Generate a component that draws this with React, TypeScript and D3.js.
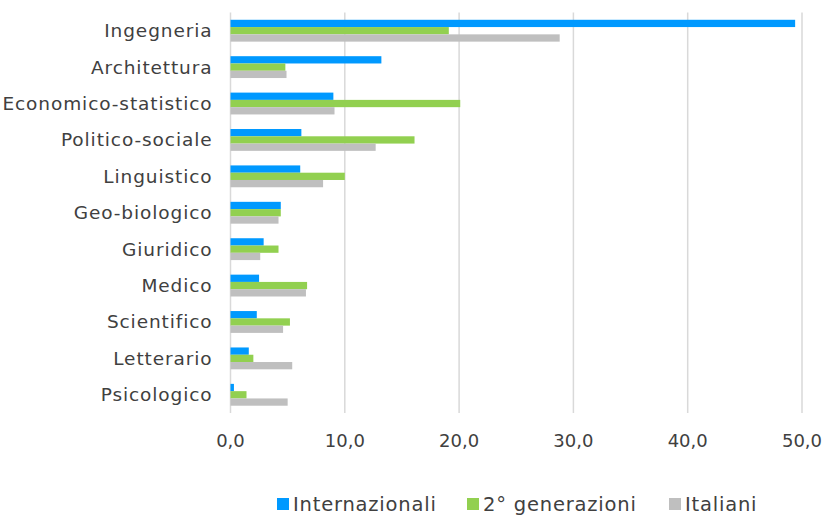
import React from "react";
import * as d3 from "d3";

const categories = [
  "Ingegneria",
  "Architettura",
  "Economico-statistico",
  "Politico-sociale",
  "Linguistico",
  "Geo-biologico",
  "Giuridico",
  "Medico",
  "Scientifico",
  "Letterario",
  "Psicologico",
];
const seriesNames = ["Internazionali", "2° generazioni", "Italiani"];
const internazionali = [49.4, 13.2, 9.0, 6.2, 6.1, 4.4, 2.9, 2.5, 2.3, 1.6, 0.3];
const generazioni2 = [19.1, 4.8, 20.1, 16.1, 10.0, 4.4, 4.2, 6.7, 5.2, 2.0, 1.4];
const italiani = [28.8, 4.9, 9.1, 12.7, 8.1, 4.2, 2.6, 6.6, 4.6, 5.4, 5.0];
const xTicks = [0, 10, 20, 30, 40, 50];
const colors = ["#0099FF", "#92D050", "#BFBFBF"];

const W = 824;
const H = 517;
const FONT = "'DejaVu Sans', sans-serif";

export default function App() {
  const series = [internazionali, generazioni2, italiani];
  const x = d3.scaleLinear().domain([0, 50]).range([230.5, 802]);
  const y = d3.scaleBand<string>().domain(categories).range([12.5, 413]).paddingInner(0.4).paddingOuter(0.2);
  const sub = d3.scaleBand<number>().domain([0, 1, 2]).range([0, y.bandwidth()]);
  const fmt = (v: number) => d3.format(".1f")(v).replace(".", ",");
  const legendSquares = [277, 467, 669];

  return (
    <svg width={W} height={H} style={{ position: "absolute", left: 0, top: 0 }}>
      <rect width={W} height={H} fill="#fff" />
      {xTicks.map((t) => (
        <line key={t} x1={x(t)} x2={x(t)} y1={12.5} y2={413} stroke="#D9D9D9" strokeWidth={1.5} />
      ))}
      {categories.map((c, i) => (
        <g key={c}>
          {series.map((s, j) => (
            <rect
              key={j}
              x={x(0)}
              y={(y(c) as number) + (sub(j) as number)}
              width={x(s[i]) - x(0)}
              height={sub.bandwidth()}
              fill={colors[j]}
            />
          ))}
          <text
            x={212.5}
            y={(y(c) as number) + y.bandwidth() / 2}
            dy="0.35em"
            textAnchor="end"
            fontFamily={FONT}
            fontSize={18.5}
            letterSpacing={0.9}
            fill="#404040"
          >
            {c}
          </text>
        </g>
      ))}
      {xTicks.map((t) => (
        <text key={t} x={x(t)} y={446.5} textAnchor="middle" fontFamily={FONT} fontSize={18} fill="#404040">
          {fmt(t)}
        </text>
      ))}
      {seriesNames.map((n, j) => (
        <g key={n}>
          <rect x={legendSquares[j]} y={498} width={12} height={12} fill={colors[j]} />
          <text
            x={legendSquares[j] + 16}
            y={510.5}
            fontFamily={FONT}
            fontSize={19.5}
            letterSpacing={0.8}
            fill="#404040"
          >
            {n}
          </text>
        </g>
      ))}
    </svg>
  );
}
